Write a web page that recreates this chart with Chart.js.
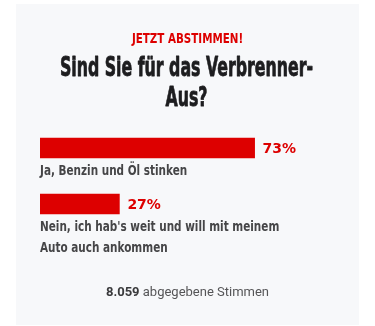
<!DOCTYPE html>
<html lang="de">
<head>
<meta charset="utf-8">
<title>Verbrenner-Aus Umfrage</title>
<script src="https://cdn.jsdelivr.net/npm/chart.js@4.4.1/dist/chart.umd.min.js"></script>
<style>
    html, body { margin: 0; padding: 0; background: #ffffff; }
    #card {
        position: absolute;
        left: 16px;
        top: 4px;
        width: 343px;
        height: 321px;
        background: #f7f8fa;
    }
    canvas { display: block; }
</style>
</head>
<body>
<div id="card">
    <canvas id="umfrage" width="343" height="321"></canvas>
</div>
<script>
// =======================
// DATEN
// =======================
const kicker = "JETZT ABSTIMMEN!";
const frage = ["Sind Sie für das Verbrenner-", "Aus?"];
const antworten = [
    ["Ja, Benzin und Öl stinken"],
    ["Nein, ich hab's weit und will mit meinem", "Auto auch ankommen"]
];
const prozente = [73, 27];
const stimmen = "8.059";
const stimmenText = "abgegebene Stimmen";

// =======================
// FARBEN / FONTS
// =======================
const ROT = "#dd0000";
const SANS = "'DejaVu Sans', sans-serif";
const CONDENSED = "'DejaVu Sans Condensed', 'DejaVu Sans', sans-serif";

// schmale Schrift: horizontal gestauchter Text
function schmal(ctx, text, x, y, sx, stroke) {
    ctx.save();
    ctx.translate(x, y);
    ctx.scale(sx, 1);
    ctx.fillText(text, 0, 0);
    if (stroke) {
        ctx.lineWidth = stroke;
        ctx.lineJoin = "round";
        ctx.strokeStyle = ctx.fillStyle;
        ctx.strokeText(text, 0, 0);
    }
    ctx.restore();
}

// =======================
// PLUGIN: Kopf
// =======================
const kopf = {
    id: "kopf",
    afterDraw(chart) {
        const ctx = chart.ctx;
        const cx = chart.width / 2;

        ctx.save();
        ctx.textAlign = "center";
        ctx.textBaseline = "alphabetic";

        ctx.fillStyle = ROT;
        ctx.font = "bold 14px " + CONDENSED;
        schmal(ctx, kicker, cx, 39, 0.82);

        ctx.fillStyle = "#1d1d1f";
        ctx.font = "bold 27px " + CONDENSED;
        frage.forEach((zeile, i) => {
            schmal(ctx, zeile, cx - 1, 72 + i * 30, 0.65, 0.8);
        });

        ctx.restore();
    }
};

// =======================
// PLUGIN: Beschriftung
// =======================
const beschriftung = {
    id: "beschriftung",
    afterDatasetsDraw(chart) {
        const ctx = chart.ctx;
        const meta = chart.getDatasetMeta(0);

        ctx.save();
        ctx.textAlign = "left";

        meta.data.forEach((bar, i) => {
            // Prozentwert rechts neben dem Balken
            ctx.textBaseline = "middle";
            ctx.fillStyle = ROT;
            ctx.font = "bold 14px " + SANS;
            ctx.fillText(prozente[i] + "%", bar.x + 8, bar.y + 1);

            // Antworttext unter dem Balken
            ctx.textBaseline = "alphabetic";
            ctx.fillStyle = "#454547";
            ctx.font = "bold 13.5px " + CONDENSED;
            antworten[i].forEach((zeile, j) => {
                schmal(ctx, zeile, chart.chartArea.left, bar.y + 27 + j * 20.5, 0.86);
            });
        });

        // Fußzeile: Anzahl Stimmen
        ctx.textBaseline = "alphabetic";
        const cx = chart.width / 2;
        const fy = chart.chartArea.bottom + 64;
        ctx.font = "bold 13px Roboto, sans-serif";
        const w1 = ctx.measureText(stimmen + " ").width;
        ctx.font = "13px Roboto, sans-serif";
        const w2 = ctx.measureText(stimmenText).width;
        const x0 = cx - (w1 + w2) / 2;

        ctx.fillStyle = "#3a3a3c";
        ctx.font = "bold 13px Roboto, sans-serif";
        ctx.fillText(stimmen + " ", x0, fy);
        ctx.fillStyle = "#555557";
        ctx.font = "13px Roboto, sans-serif";
        ctx.fillText(stimmenText, x0 + w1, fy);

        ctx.restore();
    }
};

// =======================
// CHART
// =======================
new Chart(document.getElementById("umfrage"), {
    type: "bar",
    data: {
        labels: antworten.map(a => a.join(" ")),
        datasets: [{
            data: prozente,
            backgroundColor: ROT,
            barThickness: 20,
            borderWidth: 0
        }]
    },
    options: {
        indexAxis: "y",
        responsive: false,
        animation: false,
        layout: {
            padding: { top: 116, left: 24, right: 25, bottom: 93 }
        },
        scales: {
            x: { display: false, min: 0, max: 100 },
            y: { display: false }
        },
        plugins: {
            legend: { display: false },
            tooltip: { enabled: false },
            title: { display: false }
        }
    },
    plugins: [kopf, beschriftung]
});
</script>
</body>
</html>
